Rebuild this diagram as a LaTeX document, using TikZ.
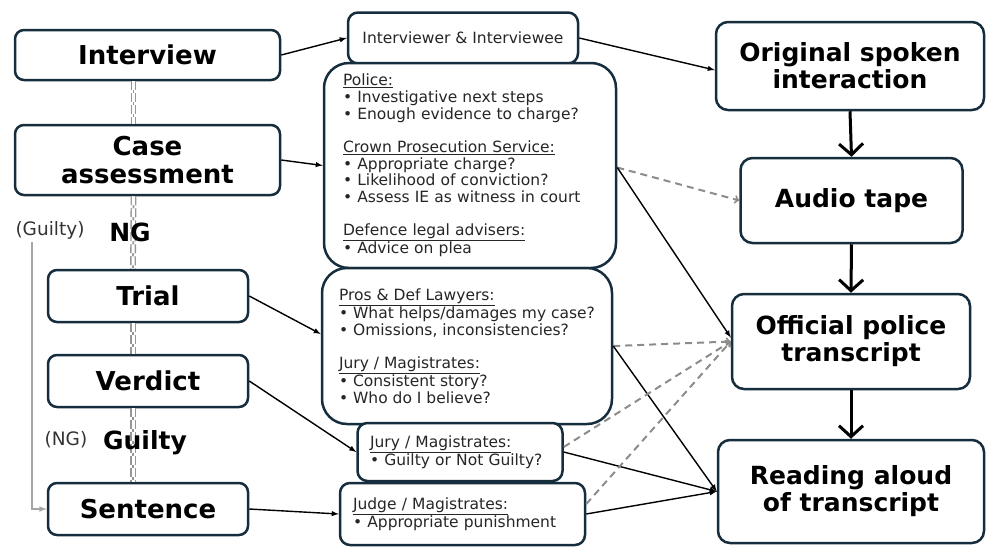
\documentclass[tikz,border=0pt]{standalone}
\usepackage{fontspec}
\setmainfont{DejaVu Sans}
\usepackage{tikz}
\usetikzlibrary{arrows}
\usetikzlibrary{arrows.meta,calc}

\definecolor{boxline}{RGB}{22,45,62}
\definecolor{dashgrey}{RGB}{140,140,140}
\definecolor{chaingrey}{RGB}{150,150,150}

\tikzset{
	stage/.style={shape=rectangle, draw=boxline, line width=2.5pt, rounded corners=9pt, fill=white, align=center, inner sep=0pt, font=\fontsize{26}{28}\selectfont\bfseries},
	version/.style={stage, rounded corners=12pt, font=\fontsize{25}{27}\selectfont\bfseries},
	note/.style={shape=rectangle, draw=boxline, line width=2.5pt, rounded corners=10pt, fill=white, align=left, inner sep=0pt, text=black!85, font=\fontsize{15.5}{16.7}\selectfont},
	flow/.style={-{Straight Barb[length=11pt,width=24pt]}, line width=3pt},
	feed/.style={-latex, line width=1.4pt},
	maybe/.style={-to, dashgrey, line width=2pt, dash pattern=on 7pt off 5pt},
	chain/.style={chaingrey, line width=1.8pt, postaction={draw=chaingrey, line width=1.4pt, double=white, double distance=3pt, dash pattern=on 9pt off 3pt}}
}

\begin{document}
\begin{tikzpicture}[x=1pt, y={(0pt,-1pt)}]
			\useasboundingbox (0, 0) rectangle (986, 547);
			% Stages of the case:
			\node[stage, minimum width=265, minimum height=50](interview) at (147.5, 55){Interview};
			\node[stage, minimum width=265, minimum height=70](caseass) at (147.5, 160){Case\\assessment};
			\node[stage, minimum width=200, minimum height=52](trial) at (148, 296){Trial};
			\node[stage, minimum width=200, minimum height=52](verdict) at (148, 381){Verdict};
			\node[stage, minimum width=200, minimum height=52](sentence) at (148, 509){Sentence};
			\draw[chain] ([xshift=-14pt]interview.south) -- ([xshift=-14pt]caseass.north);
			\draw[chain] ([xshift=-14pt]caseass.south) -- ([xshift=-15pt]trial.north);
			\draw[chain] ([xshift=-15pt]trial.south) -- ([xshift=-15pt]verdict.north);
			\draw[chain] ([xshift=-15pt]verdict.south) -- ([xshift=-15pt]sentence.north);
			\node[font=\fontsize{25}{27}\selectfont\bfseries](ng) at (130, 232){NG};
			\node[font=\fontsize{25}{27}\selectfont\bfseries](gu) at (145, 443){Guilty};
			\node[font=\fontsize{18.5}{20}\selectfont, text=black!80](lguilty) at (50, 230){(Guilty)};
			\node[font=\fontsize{18.5}{20}\selectfont, text=black!80](lng) at (66, 440){(NG)};
			\draw[-latex, gray!70, line width=1.5pt] ([xshift=-18pt]lguilty.south) |- (sentence.west);
			% Who looks at the talk, and why:
			\node[note, align=center, minimum width=230, minimum height=51](ivee) at (463, 38){Interviewer \& Interviewee};
			\node[note, rounded corners=25pt, text width=254, minimum width=292, minimum height=205](police) at (470, 165.5){\underline{Police:}\\
				\textbullet{} Investigative next steps\\
				\textbullet{} Enough evidence to charge?\\[16.7pt]
				\underline{Crown Prosecution Service:}\\
				\textbullet{} Appropriate charge?\\
				\textbullet{} Likelihood of conviction?\\
				\textbullet{} Assess IE as witness in court\\[16.7pt]
				\underline{Defence legal advisers:}\\
				\textbullet{} Advice on plea};
			\node[note, rounded corners=25pt, minimum width=290, minimum height=156](pros) at (467, 346){\underline{Pros \& Def Lawyers:}\\
				\textbullet{} What helps/damages my case?\\
				\textbullet{} Omissions, inconsistencies?\\[16.7pt]
				\underline{Jury / Magistrates:}\\
				\textbullet{} Consistent story?\\
				\textbullet{} Who do I believe?};
			\node[note, text width=180, minimum width=205, minimum height=58](jury) at (460, 452){\underline{Jury / Magistrates:}\\
				\textbullet{} Guilty or Not Guilty?};
			\node[note, text width=219, minimum width=245, minimum height=62](judge) at (462.5, 514){\underline{Judge / Magistrates:}\\
				\textbullet{} Appropriate punishment};
			% Versions of the talk:
			\node[version, minimum width=268, minimum height=88](orig) at (850, 66){Original spoken\\interaction};
			\node[version, minimum width=222, minimum height=85](tape) at (851.5, 200.5){Audio tape};
			\node[version, minimum width=238, minimum height=95](official) at (851, 341.5){Official police\\transcript};
			\node[version, minimum width=266, minimum height=103](reading) at (851, 491.5){Reading aloud\\of transcript};
			\draw[flow] (orig.south) -- (tape.north);
			\draw[flow] (tape.south) -- (official.north);
			\draw[flow] (official.south) -- (reading.north);
			% Connectors:
			\draw[feed] (interview.east) -- (ivee.west);
			\draw[feed] (ivee.east) -- ($(orig.west)+(0,4)$);
			\draw[feed] (caseass.east) -- (police.west);
			\draw[feed] (trial.east) -- ($(pros.west)+(0,-12)$);
			\draw[feed] (verdict.east) -- (jury.west);
			\draw[feed] (sentence.east) -- (judge.west);
			\draw[maybe] ($(police.east)+(0,2)$) -- (tape.west);
			\draw[feed] ($(police.east)+(0,2)$) -- ($(official.west)+(0,-4)$);
			\draw[maybe] (pros.east) -- (official.west);
			\draw[feed] (pros.east) -- (reading.west);
			\draw[maybe] ($(jury.east)+(0,-5)$) -- (official.west);
			\draw[feed] (jury.east) -- (reading.west);
			\draw[maybe] ($(judge.east)+(0,-10)$) -- (official.west);
			\draw[feed] (judge.east) -- (reading.west);
		\end{tikzpicture}
\end{document}
